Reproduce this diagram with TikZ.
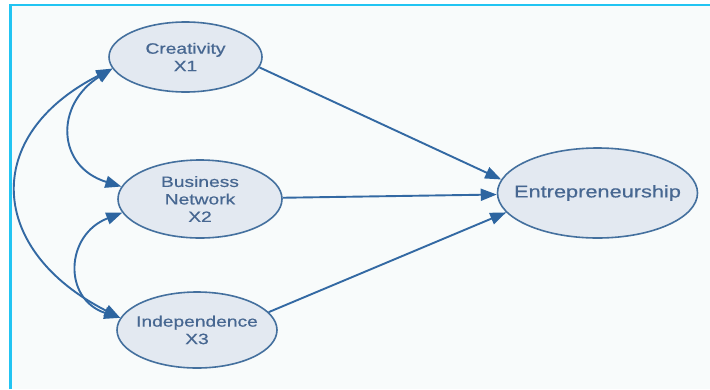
\documentclass[tikz,border=0pt]{standalone}
\usepackage{fontspec}
\setmainfont[FakeStretch=1.28,FakeBold=0.6]{Liberation Sans}
\usetikzlibrary{shapes.geometric,arrows.meta}
\definecolor{framecyan}{HTML}{22C4F2}
\definecolor{paper}{HTML}{F8FBFB}
\definecolor{nodefill}{HTML}{E3E9F1}
\definecolor{nodeline}{HTML}{44709E}
\definecolor{ink}{HTML}{476791}
\definecolor{link}{HTML}{3369A3}
\definecolor{head}{HTML}{2D65A0}
\begin{document}
\begin{tikzpicture}[x=1pt,y=-1pt,
  var/.style={ellipse, draw=nodeline, line width=1.6pt, fill=nodefill, inner sep=0pt},
  caption/.style={text=ink, align=center, font=\fontsize{15}{17.5}\selectfont},
  bigcaption/.style={text=ink, align=center, font=\fontsize{17}{20}\selectfont},
  effect/.style={draw=link, line width=1.9pt, -{Triangle[length=16pt,width=12pt,color=head]}},
  covary/.style={draw=link, line width=1.9pt, {Triangle[length=16pt,width=12pt,color=head]}-{Triangle[length=16pt,width=12pt,color=head]}},
]
\useasboundingbox (0,0) rectangle (710,389);
% frame and paper
\fill[paper] (10.5,5) rectangle (710,389);
\draw[framecyan, line width=2.5pt] (10.5,389) -- (10.5,5) -- (710,5);

% latent variables
\node[var, minimum width=153pt, minimum height=70pt,
      label={[caption]center:{Creativity\\X1}}] (c1) at (185.5,57) {};
\node[var, minimum width=164pt, minimum height=78pt,
      label={[caption]center:{Business\\Network\\X2}}] (c2) at (200,199) {};
\node[var, minimum width=160pt, minimum height=76pt,
      label={[caption]center:{Independence\\X3}}] (c3) at (197,330) {};
\node[var, minimum width=200pt, minimum height=90pt,
      label={[bigcaption]center:{Entrepreneurship}}] (ent) at (597.5,193) {};

% correlations between predictors
\draw[covary] (c1.189) .. controls +(-132,67) and +(-132,-67) .. (c3.171);
\draw[covary] (c1.189) .. controls +(-57.7,36) and +(-65,-20) .. (c2.171);
\draw[covary] (c2.190) .. controls +(-57,21.8) and +(-58,-18.8) .. (c3.171);

% paths to the outcome
\draw[effect] (c1.-8) -- (ent.172);
\draw[effect] (c2) -- (ent);
\draw[effect] (c3.14) -- (ent.192);
\end{tikzpicture}
\end{document}
